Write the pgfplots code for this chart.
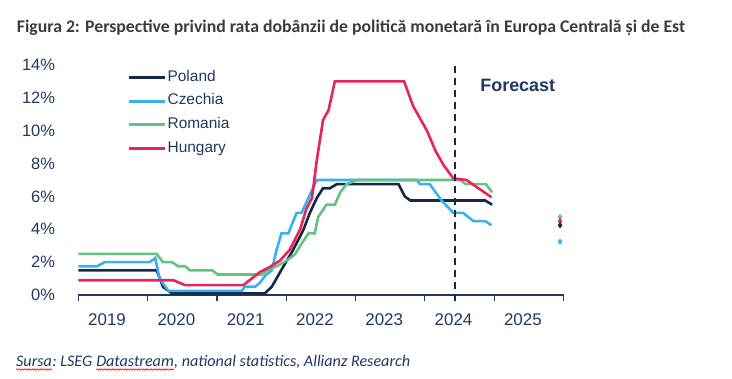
\documentclass[border=0pt]{standalone}
\usepackage{fontspec}
\setmainfont{Liberation Sans}
\newfontfamily\carlito{Carlito}
\usepackage{pgfplots}
\usepackage{pgfplotstable}
\pgfplotsset{compat=1.18}
\usetikzlibrary{decorations.pathmorphing}
\definecolor{navyline}{RGB}{20,40,75}
\definecolor{textnavy}{RGB}{31,56,100}
\definecolor{czech}{RGB}{59,176,238}
\definecolor{romania}{RGB}{98,194,129}
\definecolor{hungary}{RGB}{229,38,91}
\definecolor{titlegray}{RGB}{60,60,60}

\pgfplotstableread{
x y
2019.00 1.5
2020.13 1.5
2020.22 0.5
2020.35 0.1
2021.69 0.1
2021.79 0.5
2021.96 1.75
2022.10 2.75
2022.25 4.0
2022.34 5.0
2022.44 5.9
2022.53 6.5
2022.63 6.5
2022.73 6.75
2023.62 6.75
2023.71 6.0
2023.79 5.75
2024.87 5.75
2024.97 5.5
}\poland

\pgfplotstableread{
x y
2019.00 1.75
2019.27 1.75
2019.38 2.0
2020.03 2.0
2020.11 2.25
2020.17 1.0
2020.30 0.25
2021.36 0.25
2021.40 0.5
2021.55 0.5
2021.62 0.75
2021.70 1.2
2021.79 1.5
2021.86 2.75
2021.93 3.75
2022.03 3.75
2022.10 4.5
2022.15 5.0
2022.22 5.0
2022.44 7.0
2023.88 7.0
2023.93 6.75
2024.07 6.75
2024.24 5.75
2024.41 5.0
2024.55 5.0
2024.70 4.5
2024.87 4.5
2024.96 4.25
}\czechia

\pgfplotstableread{
x y
2019.00 2.5
2020.13 2.5
2020.22 2.0
2020.35 2.0
2020.44 1.75
2020.54 1.75
2020.61 1.5
2020.93 1.5
2021.01 1.25
2021.65 1.25
2021.72 1.5
2021.86 1.75
2022.01 2.1
2022.13 2.5
2022.20 3.0
2022.32 3.75
2022.41 3.75
2022.46 4.75
2022.58 5.5
2022.70 5.5
2022.78 6.25
2022.87 6.75
2023.02 7.0
2024.51 7.0
2024.59 6.75
2024.88 6.75
2024.97 6.25
}\romania

\pgfplotstableread{
x y
2019.00 0.9
2020.37 0.9
2020.54 0.6
2021.38 0.6
2021.62 1.4
2021.76 1.7
2021.91 2.1
2022.05 2.75
2022.20 4.0
2022.29 5.25
2022.37 5.9
2022.44 8.2
2022.53 10.65
2022.61 11.25
2022.70 13.0
2023.70 13.0
2023.83 11.5
2024.03 10.0
2024.15 8.8
2024.27 7.9
2024.41 7.1
2024.60 7.0
2024.96 5.95
}\hungary

\begin{document}
\begin{tikzpicture}
\useasboundingbox (0,0) rectangle (732bp,379bp);
\node[anchor=base west, inner sep=0pt, text=titlegray, font=\carlito\bfseries\fontsize{17.8}{17.8}\selectfont] at (16.7bp,346.7bp) {Figura 2: Perspective privind rata dobânzii de politică monetară în Europa Centrală și de Est};
\begin{axis}[
  at={(78.4bp,84bp)}, anchor=south west,
  scale only axis, width=485.1bp, height=230bp,
  xmin=2019, xmax=2026, ymin=0, ymax=14,
  clip=false,
  axis x line*=bottom, axis y line*=left,
  y axis line style={draw=none}, ytick style={draw=none},
  x axis line style={draw=textnavy, line width=1.1bp},
  xtick={2019,2020,2021,2022,2023,2024,2025,2026},
  x tick label as interval,
  xticklabels={2019,2020,2021,2022,2023,2024,2025},
  xtick style={draw=textnavy, line width=1.1bp},
  tick align=outside, major tick length=6bp,
  ytick={0,2,4,6,8,10,12,14},
  yticklabel={\pgfmathprintnumber{\tick}\%},
  /pgf/number format/assume math mode=true,
  x tick label style={font=\fontsize{17}{17}\selectfont, text=textnavy, xshift=-6bp, yshift=-9bp},
  y tick label style={font=\fontsize{16.5}{16.5}\selectfont, text=textnavy, xshift=-14bp},
  legend style={at={(axis description cs:0.1,0.985)}, anchor=north west, draw=none, fill=none,
    font=\fontsize{15.5}{15.5}\selectfont, text=textnavy, inner sep=0pt,
    nodes={inner sep=1.5bp, text height=11bp, text depth=3.5bp}, row sep=6.2bp},
  legend cell align=left,
  legend image code/.code={\draw[#1, line width=3bp] (0bp,0bp) -- (36bp,0bp);},
]
\addplot[navyline, line width=2.6bp] table[x=x,y=y] {\poland};
\addlegendentry{Poland}
\addplot[czech, line width=2.6bp] table[x=x,y=y] {\czechia};
\addlegendentry{Czechia}
\addplot[romania, line width=2.6bp] table[x=x,y=y] {\romania};
\addlegendentry{Romania}
\addplot[hungary, line width=2.6bp] table[x=x,y=y] {\hungary};
\addlegendentry{Hungary}
\addplot[only marks, mark=diamond*, mark size=2.8bp, romania, forget plot] coordinates {(2025.95,4.75)};
\addplot[only marks, mark=diamond*, mark size=2.8bp, hungary, forget plot] coordinates {(2025.95,4.5)};
\addplot[only marks, mark=diamond*, mark size=2.8bp, navyline, forget plot] coordinates {(2025.95,4.25)};
\addplot[only marks, mark=diamond*, mark size=2.8bp, czech, forget plot] coordinates {(2025.95,3.25)};
\addplot[navyline, line width=2bp, dash pattern=on 7bp off 5bp, forget plot] coordinates {(2024.43,-0.35) (2024.43,14)};
\node[font=\bfseries\fontsize{18}{18}\selectfont, text=textnavy] at (axis cs:2025.34,12.78) {Forecast};
\end{axis}
\begin{scope}[every node/.style={anchor=base west, inner sep=0pt, text=textnavy, font=\carlito\itshape\fontsize{16.2}{16.2}\selectfont}]
\node (s1) at (16bp,12.3bp) {Sursa};
\node (s2) at (s1.base east) {:\ LSEG\ \null};
\node (s3) at (s2.base east) {Datastream};
\node (s4) at (s3.base east) {, national statistics, Allianz Research};
\end{scope}
\draw[red, line width=0.6bp, decorate, decoration={snake, amplitude=0.7bp, segment length=2.6bp}] ([yshift=-2.8bp]s1.base west) -- ([yshift=-2.8bp]s1.base east);
\draw[red, line width=0.6bp, decorate, decoration={snake, amplitude=0.7bp, segment length=2.6bp}] ([yshift=-2.8bp]s3.base west) -- ([yshift=-2.8bp]s3.base east);
\end{tikzpicture}
\end{document}
